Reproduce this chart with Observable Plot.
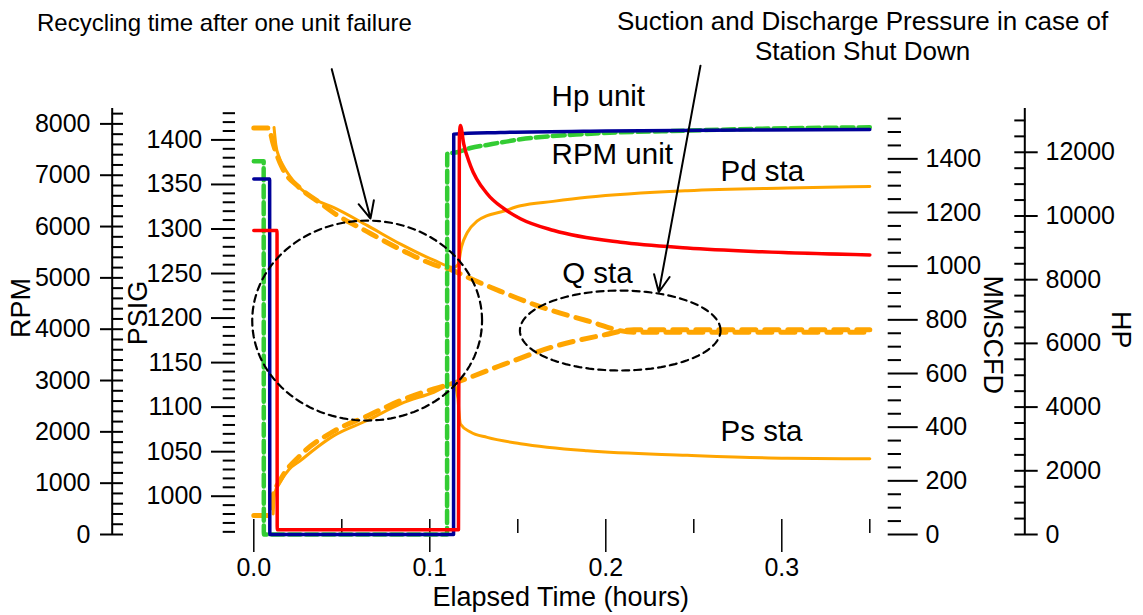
<!DOCTYPE html>
<html>
<head>
<meta charset="utf-8">
<script src="https://cdn.jsdelivr.net/npm/d3@7"></script>
<script src="https://cdn.jsdelivr.net/npm/@observablehq/plot@0.6"></script>
<style>
  html, body { margin: 0; padding: 0; background: #ffffff; }
  #chart { width: 1143px; height: 615px; }
</style>
</head>
<body>
<div id="chart"></div>
<script>
// ---- Axis ticks ----
const timeTicks = [0, 0.1, 0.2, 0.3];
const timeMinorTicks = [0.05, 0.15, 0.25, 0.35];
const rpmTicks = [0, 1000, 2000, 3000, 4000, 5000, 6000, 7000, 8000];
const psigTicks = [1000, 1050, 1100, 1150, 1200, 1250, 1300, 1350, 1400];
const mmscfdTicks = [0, 200, 400, 600, 800, 1000, 1200, 1400];
const hpTicks = [0, 2000, 4000, 6000, 8000, 10000, 12000];

// ---- Series: [elapsed hours, value] ----
// Unit horsepower (HP)
const hpUnit = [
  [0, 11160], [0.0090, 11160], [0.0091, 0], [0.1135, 0], [0.1136, 12570],
  [0.1400, 12620], [0.2000, 12670], [0.2800, 12700], [0.3500, 12712]
];
// Unit speed (RPM)
const rpmUnit = [
  [0, 7270], [0.0056, 7270], [0.0057, 0], [0.1098, 0], [0.1099, 7415],
  [0.1156, 7447], [0.1231, 7530], [0.1326, 7590], [0.1516, 7700], [0.1894, 7805],
  [0.2463, 7869], [0.3031, 7915], [0.3500, 7933]
];
// Unit flow (MMSCFD)
const qUnit = [
  [0, 1133], [0.0132, 1133], [0.0133, 17.5], [0.1163, 17.5], [0.1168, 1480],
  [0.1174, 1524], [0.1193, 1455], [0.1231, 1375], [0.1326, 1270], [0.1420, 1215],
  [0.1515, 1177], [0.1705, 1133], [0.2084, 1089], [0.2463, 1068], [0.2841, 1055],
  [0.3500, 1042]
];
// Station discharge pressure (PSIG)
const pdSta = [
  [0.0115, 1414], [0.0125, 1395], [0.0145, 1380], [0.0170, 1370], [0.0247, 1349],
  [0.0360, 1332], [0.0455, 1324], [0.0644, 1304], [0.0834, 1283], [0.1023, 1265],
  [0.1136, 1257], [0.1160, 1260], [0.1180, 1280], [0.1213, 1296], [0.1270, 1309],
  [0.1326, 1315], [0.1402, 1319], [0.1515, 1326], [0.1700, 1331], [0.1894, 1335.6],
  [0.2463, 1343], [0.3031, 1346], [0.3500, 1347.6]
];
// Station suction pressure (PSIG)
const psSta = [
  [0.0110, 980], [0.0118, 1003], [0.0150, 1016], [0.0200, 1030], [0.0265, 1040],
  [0.0360, 1055], [0.0455, 1068], [0.0644, 1085], [0.0834, 1103.7], [0.1023, 1116.7],
  [0.1136, 1126], [0.1160, 1110], [0.1165, 1096], [0.1174, 1081], [0.1231, 1072],
  [0.1326, 1066], [0.1515, 1059], [0.1894, 1051], [0.2463, 1046], [0.3031, 1042.6],
  [0.3500, 1042]
];
// Discharge pressure with the station shut down (PSIG)
const pdShutdown = [
  [0, 1413.5], [0.0085, 1413.5], [0.0108, 1397], [0.0161, 1369], [0.0256, 1347],
  [0.0379, 1329], [0.0455, 1318], [0.0644, 1297], [0.0834, 1277], [0.1023, 1260],
  [0.1136, 1253], [0.1213, 1246], [0.1402, 1230], [0.1610, 1214], [0.1894, 1197],
  [0.2159, 1184], [0.2500, 1184], [0.3500, 1184]
];
// Suction pressure with the station shut down (PSIG)
const psShutdown = [
  [0, 978.3], [0.0085, 978.3], [0.0108, 1000], [0.0150, 1018], [0.0265, 1046],
  [0.0455, 1073], [0.0644, 1090], [0.0834, 1107.4], [0.1023, 1120.5], [0.1136, 1127],
  [0.1420, 1148], [0.1705, 1168], [0.1989, 1181], [0.2159, 1187], [0.2500, 1187],
  [0.3500, 1187]
];

// ---- Shared vertical scale: everything is drawn on the RPM scale ----
const psigToBase = d3.scaleLinear().domain([1000, 1400]).range([746, 7688]);
const mmscfdToBase = d3.scaleLinear().domain([0, 1400]).range([0, 7319]);
const hpToBase = d3.scaleLinear().domain([0, 12000]).range([0, 7447]);
const rpmToBase = d3.scaleLinear().domain([0, 1]).range([0, 1]);

// ---- Annotations (hours, RPM-scale units) ----
const seriesLabels = [
  {text: "Hp unit", t: 0.1692, v: 8531},
  {text: "RPM unit", t: 0.1692, v: 7398},
  {text: "Pd sta", t: 0.2652, v: 7080},
  {text: "Q sta", t: 0.1752, v: 5078},
  {text: "Ps sta", t: 0.2652, v: 2010}
];
const notes = [
  {text: "Recycling time after one unit failure", t: -0.0167, v: 9986, size: 24},
  {text: "Suction and Discharge Pressure in case of\nStation Shut Down", t: 0.3459, v: 9720, size: 26}
];
const pointers = [
  {t1: 0.0443, v1: 9067, t2: 0.0663, v2: 6155},
  {t1: 0.2538, v1: 9135, t2: 0.2301, v2: 4720}
];
const circles = [
  {id: "recycle", t: 0.0644, v: 4168, rt: 0.0653, rv: 1948},
  {id: "shutdown", t: 0.2082, v: 3974, rt: 0.0570, rv: 779}
];
const ellipsePoints = circles.flatMap(c =>
  d3.range(0, 360, 3).map(a => ({
    id: c.id,
    t: c.t + c.rt * Math.cos(a * Math.PI / 180),
    v: c.v + c.rv * Math.sin(a * Math.PI / 180)
  }))
);

const FONT = "'Liberation Sans', Arial, Helvetica, sans-serif";
const ORANGE = "#ffa500", GREEN = "#33cc33", BLUE = "#000099", RED = "#ff0000";

const series = (points, toBase, style) =>
  Plot.line(points, {x: d => d[0], y: d => toBase(d[1]), curve: "monotone-x", ...style});

const minor = (all, major) => all.filter(v => !major.includes(v));

const axisTitle = (text, frameAnchor, dx, dy, rotate) =>
  Plot.text([text], {frameAnchor, dx, dy, rotate, fontSize: 27, textAnchor: "middle", lineAnchor: "middle"});

const chart = Plot.plot({
  width: 1143,
  height: 615,
  marginTop: 108,
  marginBottom: 81,
  marginLeft: 253.3,
  marginRight: 273.7,
  x: {domain: [0, 0.35], axis: null, label: null},
  y: {domain: [0, 8300], axis: null, label: null},
  style: {fontFamily: FONT, fontSize: "25px", background: "#ffffff", color: "#000000"},
  marks: [
    // Elapsed time axis
    Plot.axisX(timeTicks, {anchor: "bottom", dy: -15, tickSize: 33, tickPadding: 6, strokeWidth: 1.5,
      tickFormat: d3.format(".1f"), fontSize: 25, label: null}),
    Plot.axisX(timeMinorTicks, {anchor: "bottom", dy: -15, tickSize: 14, strokeWidth: 1.5,
      tickFormat: () => "", label: null}),
    axisTitle("Elapsed Time (hours)", "bottom", -1, 63, 0),

    // RPM axis
    Plot.ruleX([0], {dx: -141.6, y1: 0, y2: 8300, strokeWidth: 2}),
    Plot.axisY(rpmTicks, {anchor: "left", dx: -130.3, tickSize: 23, tickPadding: 10, strokeWidth: 2,
      tickFormat: d => String(d), fontSize: 25, label: null}),
    Plot.axisY(minor(d3.range(0, 8201, 200), rpmTicks), {anchor: "left", dx: -130.3, tickSize: 11.3,
      strokeWidth: 2, tickFormat: () => "", label: null}),
    axisTitle("RPM", "left", 21 - 253.3, 307.5 - 321, -90),

    // PSIG axis
    Plot.axisY(psigTicks.map(psigToBase), {anchor: "left", dx: -18.3, tickSize: 24, tickPadding: 9.3,
      strokeWidth: 2, tickFormat: d => String(Math.round(psigToBase.invert(d))), fontSize: 25, label: null}),
    Plot.axisY(minor(d3.range(960, 1431, 10), psigTicks).map(psigToBase), {anchor: "left", dx: -18.3,
      tickSize: 12.3, strokeWidth: 2, tickFormat: () => "", label: null}),
    axisTitle("PSIG", "left", 138 - 253.3, 312.5 - 321, -90),

    // MMSCFD axis
    Plot.axisY(mmscfdTicks.map(mmscfdToBase), {anchor: "right", dx: 17.4, tickSize: 30, tickPadding: 8.3,
      strokeWidth: 2, tickFormat: d => String(Math.round(mmscfdToBase.invert(d))), fontSize: 25, label: null}),
    Plot.axisY(minor(d3.range(0, 1551, 50), mmscfdTicks).map(mmscfdToBase), {anchor: "right", dx: 17.4,
      tickSize: 13.3, strokeWidth: 2, tickFormat: () => "", label: null}),
    axisTitle("MMSCFD", "right", 992.3 - 869.3, 334.2 - 321, 90),

    // HP axis
    Plot.ruleX([0.35], {dx: 155, y1: 0, y2: 8300, strokeWidth: 2}),
    Plot.axisY(hpTicks.map(hpToBase), {anchor: "right", dx: 144, tickSize: 23.4, tickPadding: 8.3,
      strokeWidth: 2, tickFormat: d => String(Math.round(hpToBase.invert(d))), fontSize: 25, label: null}),
    Plot.axisY(minor(d3.range(0, 13001, 500), hpTicks).map(hpToBase), {anchor: "right", dx: 144,
      tickSize: 11, strokeWidth: 2, tickFormat: () => "", label: null}),
    axisTitle("HP", "right", 1120 - 869.3, 329.2 - 321, 90),

    // Station pressures
    series(pdShutdown, psigToBase, {stroke: ORANGE, strokeWidth: 5, strokeDasharray: "14,9"}),
    series(psShutdown, psigToBase, {stroke: ORANGE, strokeWidth: 5, strokeDasharray: "14,9"}),
    series(pdSta, psigToBase, {stroke: ORANGE, strokeWidth: 3}),
    series(psSta, psigToBase, {stroke: ORANGE, strokeWidth: 3}),

    // Unit speed, power and flow
    series(rpmUnit, rpmToBase, {stroke: GREEN, strokeWidth: 4.5, strokeDasharray: "12,5"}),
    series(hpUnit, hpToBase, {stroke: BLUE, strokeWidth: 3.5}),
    series(qUnit, mmscfdToBase, {stroke: RED, strokeWidth: 3.5}),

    // Highlighted regions and callouts
    Plot.line(ellipsePoints, {x: "t", y: "v", z: "id", curve: "linear-closed", stroke: "#000000",
      strokeWidth: 2.2, strokeDasharray: "7,5"}),
    Plot.arrow(pointers, {x1: "t1", y1: "v1", x2: "t2", y2: "v2", stroke: "#000000", strokeWidth: 2,
      headLength: 14, headAngle: 50}),

    Plot.text(seriesLabels, {x: "t", y: "v", text: "text", textAnchor: "start", lineAnchor: "middle", fontSize: 29.5}),
    Plot.text(notes, {x: "t", y: "v", text: "text", textAnchor: "middle", lineAnchor: "middle",
      fontSize: d => d.size, lineHeight: 1.15})
  ]
});

document.getElementById("chart").appendChild(chart);
</script>
</body>
</html>
